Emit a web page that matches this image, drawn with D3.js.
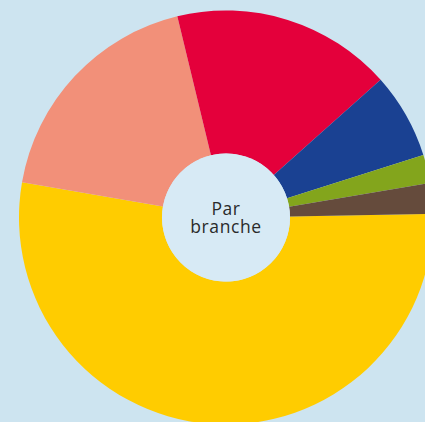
<!DOCTYPE html>
<html>
<head>
<meta charset="utf-8">
<script src="https://cdn.jsdelivr.net/npm/d3@7"></script>
<style>
  html, body { margin: 0; padding: 0; background: #cde4f0; }
  svg { display: block; }
</style>
</head>
<body>
<svg id="chart" width="425" height="422"></svg>
<script>
const categories = ["Jaune", "Saumon", "Rouge", "Bleu", "Vert", "Brun"];
const values = [53.0, 18.5, 17.2, 6.7, 2.2, 2.4];
const colors = ["#ffcc00", "#f29079", "#e4003b", "#1a4192", "#83a51c", "#654b3c"];
const centerLines = ["Par", "branche"];

const W = 425, H = 422;
const cx = 226, cy = 217.5, outerR = 207, innerR = 64;
const startDeg = 89;

const svg = d3.select("#chart");
svg.append("rect").attr("width", W).attr("height", H).attr("fill", "#cde4f0");

const g = svg.append("g").attr("transform", `translate(${cx},${cy})`);

const pie = d3.pie().sort(null).value(d => d.value)
  .startAngle(startDeg * Math.PI / 180)
  .endAngle(startDeg * Math.PI / 180 + 2 * Math.PI);
const arc = d3.arc().innerRadius(innerR).outerRadius(outerR);

const data = categories.map((c, i) => ({ name: c, value: values[i], color: colors[i] }));

g.selectAll("path.slice").data(pie(data)).join("path")
  .attr("class", "slice")
  .attr("d", arc)
  .attr("fill", d => d.data.color);

g.append("circle").attr("r", innerR).attr("fill", "#d7eaf5");

g.selectAll("text.center").data(centerLines).join("text")
  .attr("class", "center")
  .attr("text-anchor", "middle")
  .attr("font-family", "'Open Sans', sans-serif")
  .attr("font-size", 17.5)
  .attr("letter-spacing", 0.6)
  .attr("fill", "#2a2a2a")
  .attr("x", 0)
  .attr("y", (d, i) => -2.5 + i * 18)
  .text(d => d);
</script>
</body>
</html>
